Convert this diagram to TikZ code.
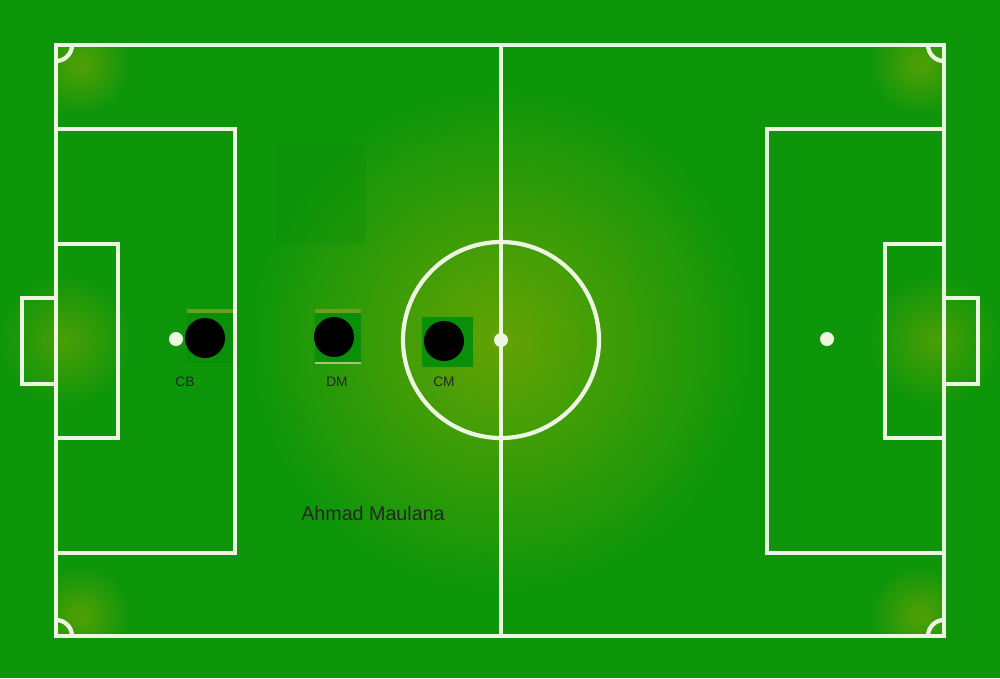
\documentclass[tikz,border=0pt]{standalone}
\usepackage{fontspec}
\setmainfont{Liberation Sans}
\definecolor{pitchgreen}{RGB}{14,150,10}
\definecolor{glowyellow}{RGB}{100,162,4}
\definecolor{chalk}{RGB}{236,246,226}
\definecolor{padgreen}{RGB}{10,143,8}
\definecolor{bandolive}{RGB}{110,158,30}
\newcommand{\shadingp}{pitchgreen}
\tikzset{chalkline/.style={draw=chalk, line width=1.2pt},
  player/.style={circle, fill=black, minimum size=0.4cm, inner sep=0pt},
  poslabel/.style={font=\fontsize{3.9pt}{4pt}\selectfont, text=black!85}}

\begin{document}
\begin{tikzpicture}[x=0.01cm, y=-0.01cm]
\useasboundingbox (0,0) rectangle (1000,678);

% grass and glows
\fill[\shadingp] (0,0) rectangle (1000,678);
\shade[inner color=glowyellow, outer color=\shadingp] (501,340) circle[radius=250];
\shade[inner color=glowyellow!70!\shadingp, outer color=\shadingp] (65,340) circle[radius=65];
\shade[inner color=glowyellow!70!\shadingp, outer color=\shadingp] (935,340) circle[radius=65];
\begin{scope}
\clip (56,45) rectangle (944,636);
\shade[inner color=glowyellow!80!\shadingp, outer color=\shadingp] (80,64) circle[radius=50];
\shade[inner color=glowyellow!80!\shadingp, outer color=\shadingp] (920,64) circle[radius=50];
\shade[inner color=glowyellow!80!\shadingp, outer color=\shadingp] (80,616) circle[radius=50];
\shade[inner color=glowyellow!80!\shadingp, outer color=\shadingp] (920,616) circle[radius=50];
\end{scope}
\fill[padgreen, opacity=.3] (276,145) rectangle (366,245);

% markings
\draw[chalkline] (56,45) rectangle (944,636);
\draw[chalkline] (501,45) -- (501,636);
\draw[chalkline] (501,340) circle[radius=98];
\draw[chalkline] (56,129) rectangle (235,553);
\draw[chalkline] (56,244) rectangle (118,438);
\draw[chalkline] (22,298) rectangle (56,384);
\draw[chalkline] (767,129) rectangle (944,553);
\draw[chalkline] (885,244) rectangle (944,438);
\draw[chalkline] (944,298) rectangle (978,384);
\begin{scope}
\clip (56,45) rectangle (944,636);
\draw[chalkline] (56,45) circle[radius=16];
\draw[chalkline] (944,45) circle[radius=16];
\draw[chalkline] (56,636) circle[radius=16];
\draw[chalkline] (944,636) circle[radius=16];
\end{scope}
\fill[chalk] (176,339) circle[radius=7];
\fill[chalk] (827,339) circle[radius=7];
\fill[chalk] (501,340) circle[radius=7];

% pads under the players
\fill[padgreen] (187,309) rectangle (233,363);
\fill[bandolive] (187,309) rectangle (233,313);
\fill[padgreen] (315,309) rectangle (361,363);
\fill[bandolive] (315,309) rectangle (361,313);
\draw[bandolive!60!white, line width=.3pt] (315,363) -- (361,363);
\fill[padgreen] (422,317) rectangle (473,367);

% players
\node[player] (cb) at (205,338) {};
\node[player] (dm) at (334,337) {};
\node[player] (cm) at (444,341) {};
\node[poslabel] (cblabel) at (185,382) {CB};
\node[poslabel] (dmlabel) at (337,382) {DM};
\node[poslabel] (cmlabel) at (444,382) {CM};
\node[font=\fontsize{5.6pt}{6pt}\selectfont, text=black!85] (name) at (373,513) {Ahmad Maulana};
\end{tikzpicture}
\end{document}
